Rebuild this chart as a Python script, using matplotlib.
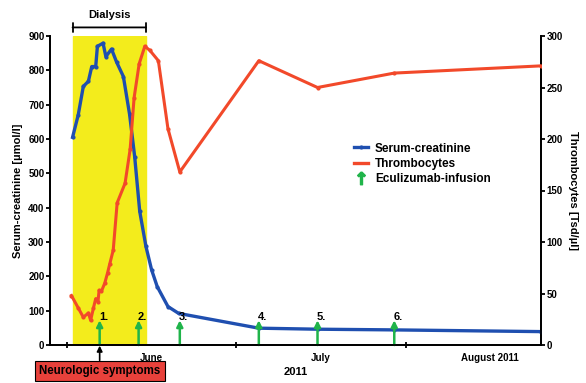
import matplotlib
matplotlib.use('Agg')
import matplotlib.pyplot as plt
from matplotlib.lines import Line2D

plt.rcParams['font.family'] = ['Liberation Sans', 'DejaVu Sans']
plt.rcParams['font.weight'] = 'bold'

# days counted from 1 June 2011
creat_days = [1.0, 2.0, 2.9, 3.8, 4.4, 5.1, 5.4, 6.4, 6.9, 7.9, 8.8, 10.0, 11.1, 12.0,
              12.9, 14.0, 15.0, 16.0, 17.9, 19.8, 34.0, 44.4, 58.0, 84.0]
creat_vals = [605, 670, 753, 768, 811, 811, 870, 879, 840, 862, 824, 782, 672, 549,
              389, 287, 219, 170, 112, 92, 49, 46, 44, 39]

thromb_days = [0.8, 2.0, 2.9, 3.8, 4.2, 4.7, 5.1, 5.5, 5.7, 6.1, 6.7, 7.2, 7.6, 8.2,
               8.9, 10.3, 11.2, 11.9, 12.8, 13.8, 14.7, 16.2, 17.9, 20.0,
               34.0, 44.4, 58.0, 84.0]
thromb_vals = [48, 36, 27, 31, 24, 36, 45, 42, 53, 52, 60, 70, 79, 92,
               138, 157, 190, 240, 273, 290, 286, 276, 210, 168,
               276, 250, 264, 271]

infusion_days = [5.8, 12.7, 20.0, 34.0, 44.4, 58.0]
infusion_labels = ['1.', '2.', '3.', '4.', '5.', '6.']

dialysis_start, dialysis_end = 1.0, 14.0
symptom_day = 5.8

month_ticks = [0, 30, 60]
month_label_pos = [15, 45, 75]
month_labels = ['June', 'July', 'August 2011']

blue = '#1f4fb0'
red = '#f2492a'
yellow = '#f3ec1c'
green = '#20b44a'

fig = plt.figure(figsize=(5.86, 3.83), dpi=100)
ax = fig.add_axes([50 / 586, 38 / 383, 491 / 586, 309 / 383])
ax2 = ax.twinx()

ax.set_xlim(-3, 84)
ax.set_ylim(0, 900)
ax2.set_ylim(0, 300)

ax.axvspan(dialysis_start, dialysis_end, ymin=0, ymax=1, color=yellow, zorder=0)

ax.plot(creat_days, creat_vals, color=blue, lw=2.4, marker='o', ms=2, zorder=3)
ax2.plot(thromb_days, thromb_vals, color=red, lw=2.2, marker='o', ms=2, zorder=3)

for d, lab in zip(infusion_days, infusion_labels):
    ax.annotate('', xy=(d, 72), xytext=(d, 0),
                arrowprops=dict(arrowstyle='-|>', color=green, lw=1.8,
                                mutation_scale=9, shrinkA=0, shrinkB=0), zorder=4)
    ax.text(d + 0.7, 82, lab, ha='center', va='center', fontsize=8, fontweight='bold')

# dialysis bracket
ax.annotate('', xy=(dialysis_start, 925), xytext=(dialysis_end, 925),
            xycoords='data', annotation_clip=False,
            arrowprops=dict(arrowstyle='|-|', color='black', lw=1.3,
                            mutation_scale=3, shrinkA=0, shrinkB=0))
ax.text((dialysis_start + dialysis_end) / 2, 962, 'Dialysis', ha='center', va='center',
        fontsize=8, fontweight='bold', clip_on=False)

# neurologic symptoms
ax.annotate('Neurologic symptoms', xy=(symptom_day, -2), xycoords='data',
            xytext=(symptom_day, -76), textcoords='data', annotation_clip=False,
            ha='center', va='center', fontsize=8.3, fontweight='bold',
            bbox=dict(boxstyle='square,pad=0.38', fc='#e8413b', ec='black', lw=0.8),
            arrowprops=dict(arrowstyle='-|>', color='black', lw=1.2,
                            mutation_scale=8, shrinkA=0, shrinkB=0))

ax.spines['top'].set_visible(False)
ax2.spines['top'].set_visible(False)
for a in (ax, ax2):
    for s in ['left', 'right', 'bottom']:
        a.spines[s].set_linewidth(1.3)

ax.set_yticks(range(0, 901, 100))
ax2.set_yticks(range(0, 301, 50))
ax.set_xticks(month_ticks)
ax.set_xticklabels([])
ax.set_xticks(month_label_pos, minor=True)
ax.set_xticklabels(month_labels, minor=True)
ax.tick_params(axis='x', which='minor', length=0, pad=6, labelsize=7)
ax.tick_params(axis='x', which='major', length=4, width=1.3, direction='inout')
ax.tick_params(axis='y', labelsize=7, width=1.3, length=3, pad=1)
ax2.tick_params(axis='y', labelsize=7, width=1.3, length=3, pad=1)
for lbl in ax.get_yticklabels() + ax2.get_yticklabels() + ax.get_xticklabels(minor=True):
    lbl.set_fontweight('bold')

ax.text(0.5, -0.07, '2011', transform=ax.transAxes, ha='center', va='top',
        fontsize=8, fontweight='bold')

ax.set_ylabel('Serum-creatinine [µmol/l]', fontsize=8, fontweight='bold', labelpad=4)
ax2.set_ylabel('Thrombocytes [Tsd/µl]', fontsize=8, fontweight='bold',
               rotation=270, labelpad=11)

handles = [Line2D([], [], color=blue, lw=2.4, marker='o', ms=2),
           Line2D([], [], color=red, lw=2.4),
           Line2D([], [], color=green, marker=r'$\uparrow$', ms=9, ls='none')]
fig.legend(handles, ['Serum-creatinine', 'Thrombocytes', 'Eculizumab-infusion'],
           loc='upper left', bbox_to_anchor=(343 / 586, 1 - 132 / 383), frameon=False,
           handlelength=1.2, handletextpad=0.6, labelspacing=0.28,
           prop=dict(weight='bold', size=8.5))

fig.savefig('out.png', dpi=100)
